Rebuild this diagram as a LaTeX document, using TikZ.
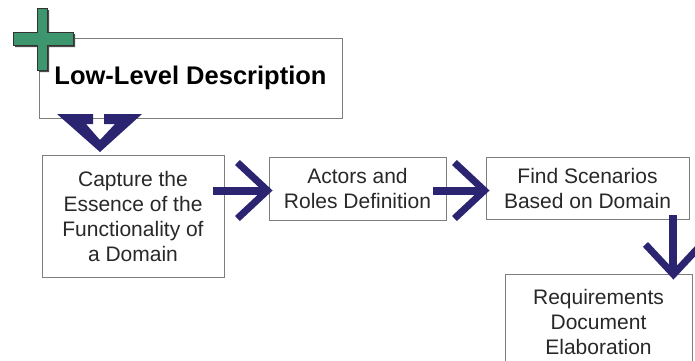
\documentclass[tikz,border=0pt]{standalone}
\usepackage{fontspec}
\setmainfont{Liberation Sans}
\usetikzlibrary{arrows.meta}
\definecolor{flowblue}{RGB}{43,36,112}
\definecolor{plusgreen}{RGB}{62,150,110}
\definecolor{boxgray}{RGB}{125,125,125}
\definecolor{txtgray}{RGB}{40,40,40}
\begin{document}
\begin{tikzpicture}[x=1pt,y=-1pt,
    box/.style={draw=boxgray,line width=0.9pt,fill=white,text=txtgray,align=center,inner sep=0pt,font=\fontsize{21}{25}\selectfont},
    flow/.style={draw=flowblue,line width=8pt,-{Straight Barb[sharp,length=30pt,width=56pt,line width=7pt]}}]
                \useasboundingbox (0,0) rectangle (695,360);
                \clip (0,0) rectangle (695,360);
                \draw (190.5,78) node[box,minimum width=303pt,minimum height=80pt,text=black,font=\fontsize{25.5}{30}\selectfont\bfseries] (low) {Low-Level Description};
                \draw (133,216) node[box,minimum width=182pt,minimum height=122pt] (cap) {Capture the\\Essence of the\\Functionality of\\a Domain};
                \draw (357.5,188.5) node[box,minimum width=177pt,minimum height=63pt] (act) {Actors and\\Roles Definition};
                \draw (587.5,188) node[box,minimum width=203pt,minimum height=62pt] (find) {Find Scenarios\\Based on Domain};
                \draw (598.5,322) node[box,minimum width=187pt,minimum height=96pt] (req) {Requirements\\Document\\Elaboration};
                \draw [flow,shorten <=-11pt,shorten >=-4pt] ([yshift=-2pt]cap.east |- act.west) -- ([yshift=-2pt]act.west);
                \draw [flow,shorten <=-13pt,shorten >=-4pt] ([yshift=-2pt]act.east) -- ([yshift=-2pt]act.east -| find.west);
                \draw [flow,shorten >=-6pt] ([xshift=-16pt,yshift=4pt]find.south east) -- ([xshift=-16pt]find.south east |- req.north);
                \fill [flowblue] (57,114) -- (93,114) -- (93,124) -- (86,124) -- (100,140) -- (115,124) -- (104,124) -- (104,114) -- (142,114) -- (100,152) -- cycle;
                \fill [black!70,shift={(2,2)}] (37,8) -- (47,8) -- (47,32) -- (73,32) -- (73,45) -- (47,45) -- (47,70) -- (37,70) -- (37,45) -- (13,45) -- (13,32) -- (37,32) -- cycle;
                \draw [plusgreen,fill=plusgreen,draw=black!80,line width=0.8pt] (37,8) -- (47,8) -- (47,32) -- (73,32) -- (73,45) -- (47,45) -- (47,70) -- (37,70) -- (37,45) -- (13,45) -- (13,32) -- (37,32) -- cycle;
\end{tikzpicture}
\end{document}
